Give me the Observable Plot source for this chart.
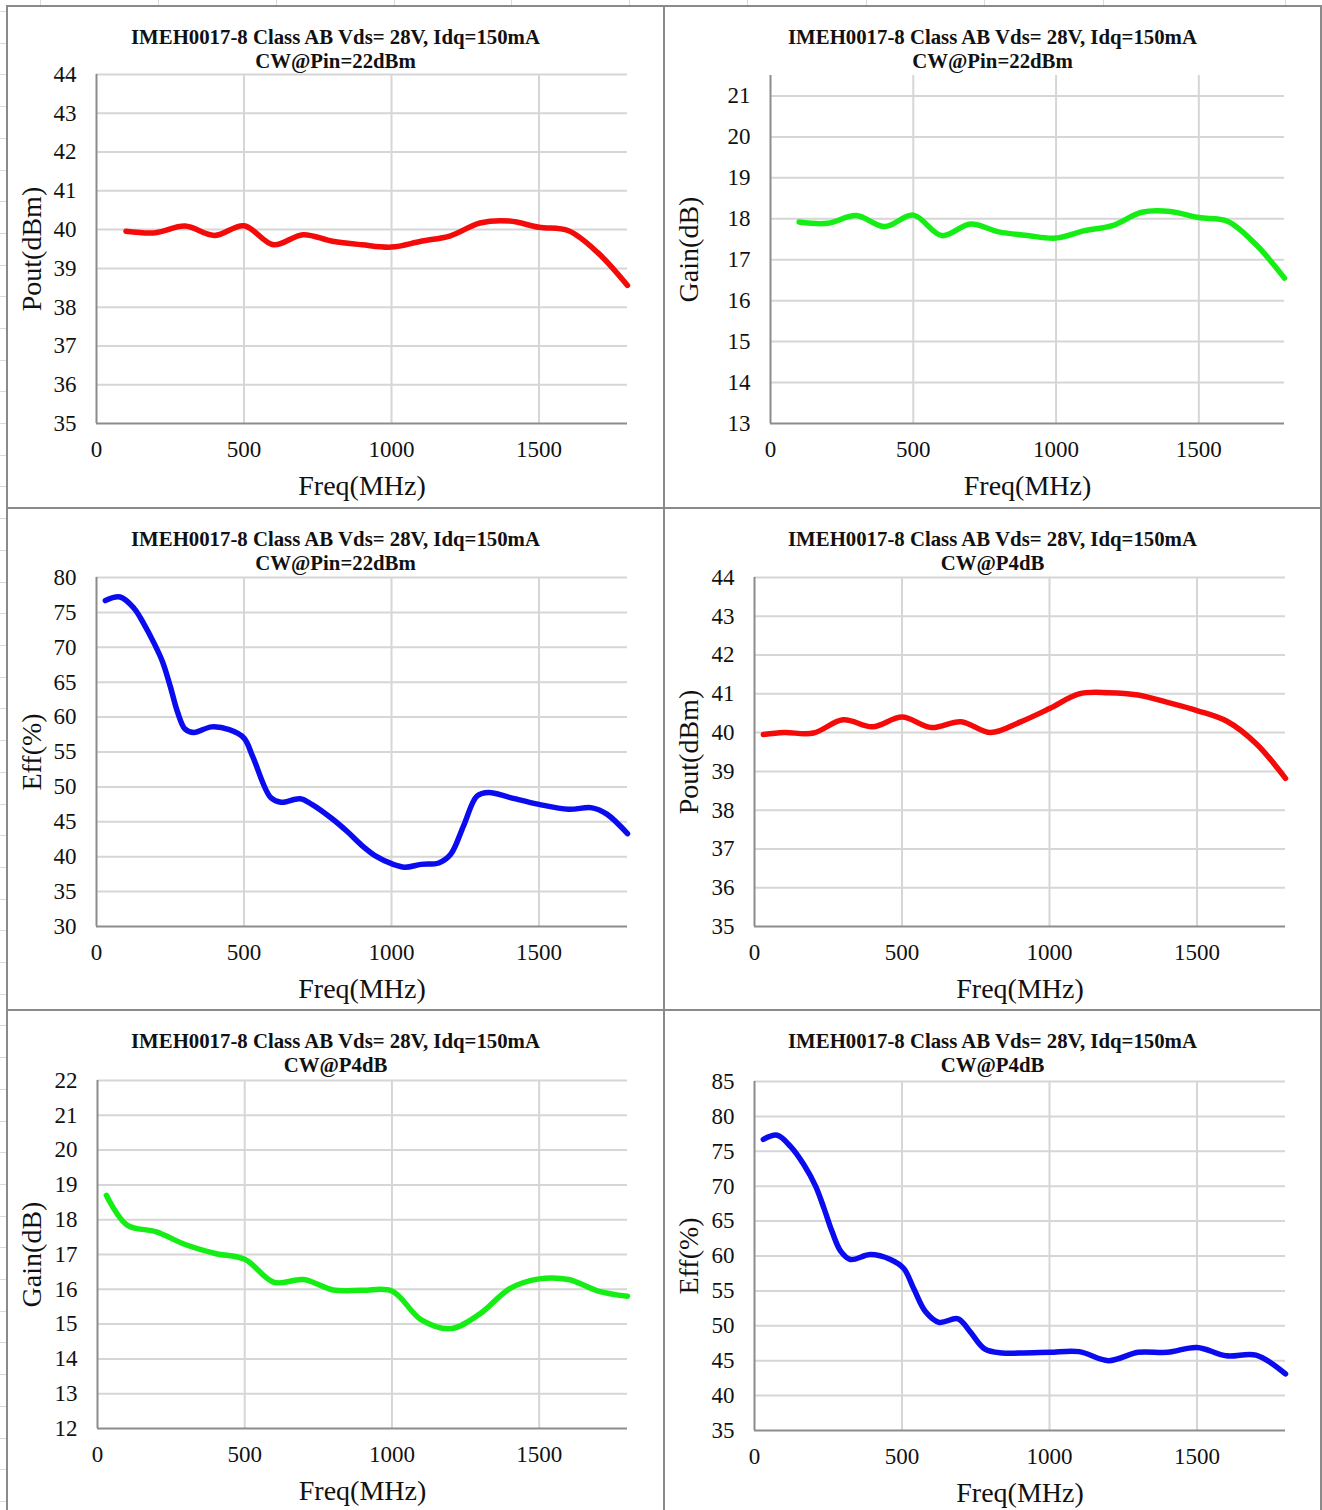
<!DOCTYPE html>
<html><head><meta charset="utf-8">
<script src="https://cdn.jsdelivr.net/npm/d3@7"></script>
<script src="https://cdn.jsdelivr.net/npm/@observablehq/plot@0.6"></script>
<style>
html,body{margin:0;padding:0;background:#fff;}
#page{position:relative;width:1322px;height:1510px;overflow:hidden;background:#fff;font-family:"Liberation Serif","Times New Roman",serif;}
.cell{position:absolute;}
.title{position:absolute;text-align:center;font-weight:bold;font-size:20.8px;color:#111;line-height:24px;white-space:nowrap;}
.bd{position:absolute;background:#8a8a8a;}
.xl{position:absolute;background:#dadada;}
</style></head><body><div id="page"></div>
<script>
// ---- data ----
const titleLine1 = "IMEH0017-8 Class AB Vds= 28V, Idq=150mA";
const subtitles = ["CW@Pin=22dBm", "CW@Pin=22dBm", "CW@Pin=22dBm", "CW@P4dB", "CW@P4dB", "CW@P4dB"];
const yLabels = ["Pout(dBm)", "Gain(dB)", "Eff(%)", "Pout(dBm)", "Gain(dB)", "Eff(%)"];
const xLabel = "Freq(MHz)";
const xTicks = [0, 500, 1000, 1500];

const freqPout22 = [100,200,300,400,500,600,700,800,900,1000,1100,1200,1300,1400,1500,1600,1700,1800];
const pout22 = [39.96,39.92,40.09,39.85,40.1,39.61,39.87,39.7,39.61,39.55,39.7,39.84,40.17,40.22,40.06,39.97,39.4,38.56];

const freqGain22 = [100,200,300,400,500,600,700,800,900,1000,1100,1200,1300,1400,1500,1600,1700,1800];
const gain22 = [17.92,17.89,18.08,17.81,18.09,17.59,17.87,17.68,17.59,17.53,17.71,17.84,18.16,18.18,18.03,17.94,17.37,16.55];

const freqEff22 = [30,80,127,160,195,225,250,275,300,330,390,450,500,530,590,625,690,730,800,850,900,950,1000,1045,1100,1160,1200,1245,1290,1330,1400,1500,1600,1680,1730,1800];
const eff22 = [76.7,77.2,75.6,73.4,70.6,67.8,64.4,60.7,58.3,57.8,58.6,58.2,57.0,54.3,48.5,47.8,48.3,47.5,45.4,43.6,41.6,40.0,39.0,38.5,38.9,39.1,40.3,44.5,48.7,49.2,48.5,47.5,46.8,47.0,46.1,43.3];

const freqPout4 = [30,100,200,300,400,500,600,700,800,900,1000,1100,1200,1300,1400,1500,1600,1700,1800];
const pout4 = [39.95,40.0,39.99,40.33,40.15,40.4,40.13,40.28,40.0,40.27,40.62,41.0,41.03,40.97,40.78,40.57,40.3,39.72,38.82];

const freqGain4 = [30,100,200,300,400,500,600,700,800,900,1000,1100,1200,1300,1400,1500,1600,1700,1800];
const gain4 = [18.7,17.85,17.65,17.28,17.03,16.86,16.2,16.28,15.98,15.97,15.95,15.12,14.87,15.3,16.02,16.3,16.28,15.95,15.8];

const freqEff4 = [30,77,122,167,207,235,263,292,325,393,461,506,540,580,625,690,730,780,840,900,1000,1100,1200,1300,1400,1500,1600,1700,1800];
const eff4 = [76.7,77.3,75.7,73.1,70.0,66.9,63.5,60.7,59.5,60.2,59.5,58.2,55.3,52.0,50.5,51.0,49.2,46.7,46.1,46.1,46.2,46.3,45.0,46.2,46.2,46.9,45.7,45.8,43.1];

const yDomains = [[35,44],[13,21.5],[30,80],[35,44],[12,22],[35,85]];
const yTicksList = [
  [35,36,37,38,39,40,41,42,43,44],
  [13,14,15,16,17,18,19,20,21],
  [30,35,40,45,50,55,60,65,70,75,80],
  [35,36,37,38,39,40,41,42,43,44],
  [12,13,14,15,16,17,18,19,20,21,22],
  [35,40,45,50,55,60,65,70,75,80,85]
];
const seriesFreq = [freqPout22, freqGain22, freqEff22, freqPout4, freqGain4, freqEff4];
const seriesVal = [pout22, gain22, eff22, pout4, gain4, eff4];
const colors = ["#f50a0a", "#14ee14", "#0b0bf0", "#f50a0a", "#14ee14", "#0b0bf0"];

// ---- layout ----
const page = document.getElementById("page");
const svgLeft = [8, 665];
const svgTop = [7, 509, 1011];
const rowTop = [6, 508, 1010];
const margins = [
  {l:88, r:36, t:67, b:84},
  {l:105, r:36, t:68, b:84},
  {l:88, r:36, t:68, b:83},
  {l:89, r:35, t:68, b:83},
  {l:89, r:36, t:69, b:83},
  {l:89, r:35, t:70, b:81}
];

// spreadsheet background lines
[40,158,276,394,511,629,747,866,984,1103,1285].forEach(x => {
  const d = document.createElement("div"); d.className = "xl";
  Object.assign(d.style, {left: x+"px", top: "0px", width: "1px", height: "6px"}); page.appendChild(d);
});
for (let y = 11; y < 1510; y += 31.7) {
  const d = document.createElement("div"); d.className = "xl";
  Object.assign(d.style, {left: "0px", top: Math.round(y)+"px", width: "7px", height: "1px"}); page.appendChild(d);
}

for (let i = 0; i < 6; i++) {
  const col = i % 2, row = Math.floor(i / 2);
  const m = margins[i];
  const data = seriesFreq[i].map((f, k) => ({f, v: seriesVal[i][k]}));
  const yd = yDomains[i], yt = yTicksList[i];
  const chart = Plot.plot({
    width: 655, height: 500,
    marginLeft: m.l, marginRight: m.r, marginTop: m.t, marginBottom: m.b,
    style: {fontFamily: "Liberation Serif, Times New Roman, serif", fontSize: "23px", color: "#111", background: "transparent", overflow: "visible"},
    x: {domain: [0, 1800]},
    y: {domain: yd},
    marks: [
      Plot.ruleY(yt.filter(t => t > yd[0]), {stroke: "#d6d6d6", strokeWidth: 2}),
      Plot.ruleX(xTicks.filter(t => t > 0), {stroke: "#d6d6d6", strokeWidth: 2}),
      Plot.ruleX([0], {stroke: "#8c8c8c", strokeWidth: 2}),
      Plot.ruleY([yd[0]], {stroke: "#8c8c8c", strokeWidth: 2}),
      Plot.line(data, {x: "f", y: "v", stroke: colors[i], strokeWidth: 5.5, curve: "catmull-rom", strokeLinecap: "round", strokeLinejoin: "round"}),
      Plot.axisX({ticks: xTicks, tickSize: 0, tickPadding: 17, label: null, tickFormat: d => String(d)}),
      Plot.axisY({ticks: yt, tickSize: 0, tickPadding: 20, label: null, tickFormat: d => String(d)}),
      Plot.text([xLabel], {text: d => d, frameAnchor: "bottom", dy: 71, fontSize: 28, fill: "#111"}),
      Plot.text([yLabels[i]], {text: d => d, frameAnchor: "left", textAnchor: "middle", dx: -(m.l - 24), rotate: -90, fontSize: 28, fill: "#111"})
    ]
  });
  const wrap = document.createElement("div");
  wrap.className = "cell";
  wrap.style.left = svgLeft[col] + "px";
  wrap.style.top = svgTop[row] + "px";
  wrap.appendChild(chart);
  page.appendChild(wrap);

  const t = document.createElement("div");
  t.className = "title";
  t.style.left = (col === 0 ? 7 : 664) + "px";
  t.style.width = "657px";
  t.style.top = (rowTop[row] + 19) + "px";
  t.innerHTML = titleLine1 + "<br>" + subtitles[i];
  page.appendChild(t);
}

// cell borders
const borders = [
  {left:6, top:5, width:1316, height:2},
  {left:6, top:507, width:1316, height:2},
  {left:6, top:1009, width:1316, height:2},
  {left:6, top:5, width:2, height:1505},
  {left:663, top:5, width:2, height:1505},
  {left:1320, top:5, width:2, height:1505}
];
borders.forEach(b => {
  const d = document.createElement("div"); d.className = "bd";
  Object.assign(d.style, {left: b.left+"px", top: b.top+"px", width: b.width+"px", height: b.height+"px"});
  page.appendChild(d);
});
</script></body></html>
